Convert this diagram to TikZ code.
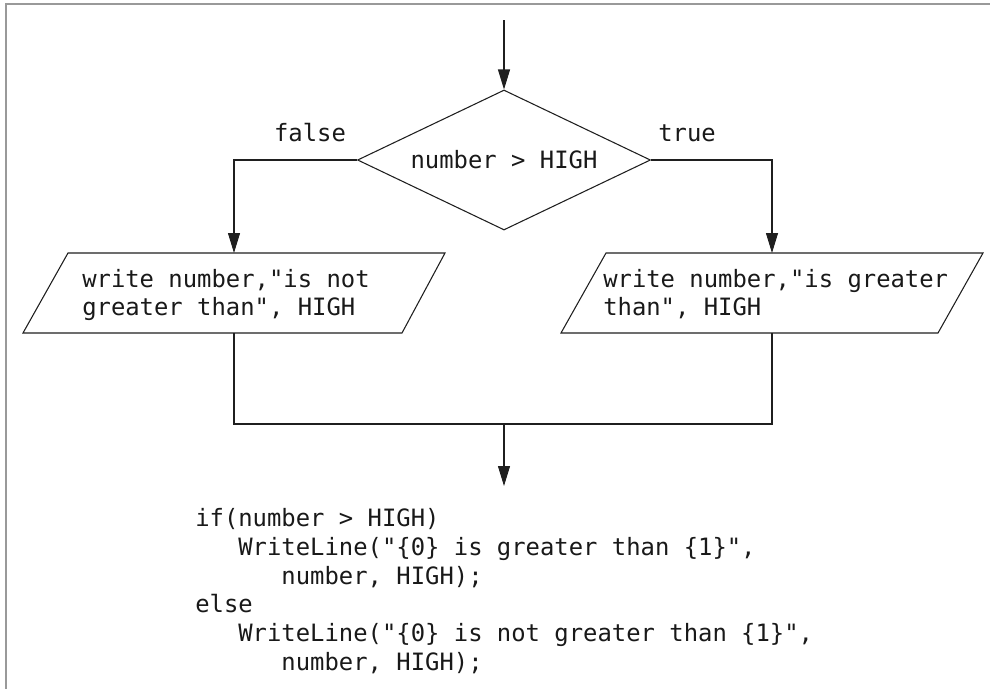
\documentclass[tikz,border=0pt]{standalone}
\usepackage{fontspec}
\setmonofont{DejaVu Sans Mono}
\usetikzlibrary{arrows.meta,shapes.geometric}
\begin{document}
\begin{tikzpicture}[x=0.75pt,y=-0.75pt,
  every node/.style={font=\fontsize{17.9pt}{21pt}\selectfont\ttfamily, inner sep=0pt, text=black!90},
  flow/.style={line width=0.8pt, draw=black!88},
  arr/.style={flow, -{Triangle[length=15pt,width=9pt]}},
  codefont/.style={font=\fontsize{17.9pt}{21.5pt}\selectfont\ttfamily}]
\useasboundingbox (0,0) rectangle (990,689);
% partial frame
\draw[black!40, line width=1.3pt] (6,689) -- (6,4) -- (990,4);

% decision
\coordinate (start) at (504,20);
\node[diamond, flow, minimum width=219.75pt, minimum height=105pt, aspect=2.1] (dec) at (504,160) {number > HIGH};
\node[anchor=base] (lfalse) at (310,141) {false};
\node[anchor=base] (ltrue) at (687,141) {true};

% output boxes (parallelograms)
\coordinate (la) at (68,253); \coordinate (lb) at (445,253);
\coordinate (lc) at (402,333); \coordinate (ld) at (23,333);
\coordinate (ra) at (606,253); \coordinate (rb) at (983,253);
\coordinate (rc) at (938,333); \coordinate (rd) at (561,333);
\draw[flow] (la) -- (lb) -- (lc) -- (ld) -- cycle;
\draw[flow] (ra) -- (rb) -- (rc) -- (rd) -- cycle;
% multi-line nodes: base anchor sits on the last line
\node[anchor=base west, align=left] (ltext) at (82,315) {write number,"is not\\greater than", HIGH};
\node[anchor=base west, align=left] (rtext) at (603,315) {write number,"is greater\\than", HIGH};

\coordinate (lin) at (234,253); \coordinate (rin) at (772,253);
\coordinate (lout) at (234,333); \coordinate (rout) at (772,333);
\coordinate (ljoin) at (234,424); \coordinate (rjoin) at (772,424);
\coordinate (mid) at (504,424); \coordinate (endp) at (504,486);

% connectors
\draw[arr] (start) -- (dec.north);
\draw[arr] (dec.west) -| (lin);
\draw[arr] (dec.east) -| (rin);
\draw[flow] (lout) -- (ljoin) -- (rjoin) -- (rout);
\draw[arr] (mid) -- (endp);

% equivalent code
\node[codefont, anchor=base west, align=left] (code) at (195,670) {if(number > HIGH)\\
\hphantom{000}WriteLine("\{0\} is greater than \{1\}",\\
\hphantom{000000}number, HIGH);\\
else\\
\hphantom{000}WriteLine("\{0\} is not greater than \{1\}",\\
\hphantom{000000}number, HIGH);};
\end{tikzpicture}
\end{document}
